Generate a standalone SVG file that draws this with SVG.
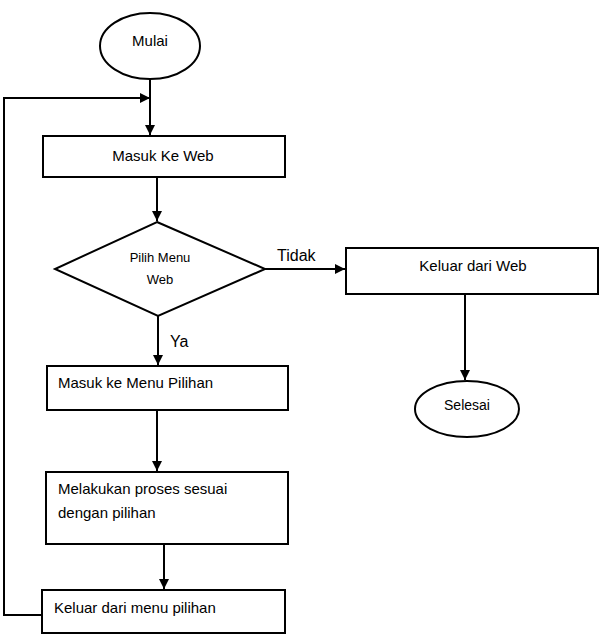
<svg xmlns="http://www.w3.org/2000/svg" width="600" height="641" viewBox="0 0 600 641">
<style>
.shape{fill:#fff;stroke:#000;stroke-width:2}
.line{fill:none;stroke:#000;stroke-width:2}
text{font-family:"Liberation Sans",Arial,sans-serif;fill:#000}
.t15{font-size:15px}
.c{text-anchor:middle}
</style>
<defs>
<marker id="arr" viewBox="0 0 10 10" refX="10" refY="5" markerWidth="5" markerHeight="5" orient="auto" markerUnits="strokeWidth">
<path d="M0,0 L10,5 L0,10 z" fill="#000"/>
</marker>
</defs>
<g id="mulai">
<ellipse class="shape" cx="150" cy="46" rx="50" ry="33"/>
<text class="t15 c" x="150" y="46">Mulai</text>
</g>
<g id="masuk-web">
<rect class="shape" x="43" y="136" width="242" height="41"/>
<text class="t15 c" x="163" y="161">Masuk Ke Web</text>
</g>
<g id="pilih-menu">
<polygon class="shape" points="157,222 265,269 158,316 55,269"/>
<text class="c" style="font-size:13px" x="160" y="262">Pilih Menu</text>
<text class="c" style="font-size:13px" x="160" y="284">Web</text>
</g>
<g id="keluar-web">
<rect class="shape" x="346" y="248" width="252" height="46"/>
<text class="t15 c" x="473" y="271">Keluar dari Web</text>
</g>
<g id="selesai">
<ellipse class="shape" cx="467" cy="409" rx="52" ry="28"/>
<text class="c" style="font-size:14px" x="467" y="410">Selesai</text>
</g>
<g id="masuk-menu">
<rect class="shape" x="47" y="366" width="241" height="44"/>
<text class="t15" x="58" y="388">Masuk ke Menu Pilihan</text>
</g>
<g id="melakukan">
<rect class="shape" x="46" y="472" width="242" height="72"/>
<text class="t15" x="58" y="494">Melakukan proses sesuai</text>
<text class="t15" x="58" y="518">dengan pilihan</text>
</g>
<g id="keluar-menu">
<rect class="shape" x="42" y="590" width="243" height="43"/>
<text class="t15" x="54" y="613">Keluar dari menu pilihan</text>
</g>
<g id="connectors">
<line class="line" x1="150" y1="79" x2="150" y2="135" marker-end="url(#arr)"/>
<line class="line" x1="157" y1="177" x2="157" y2="221" marker-end="url(#arr)"/>
<line class="line" x1="265" y1="269" x2="345" y2="269" marker-end="url(#arr)"/>
<line class="line" x1="158" y1="316" x2="158" y2="365" marker-end="url(#arr)"/>
<line class="line" x1="465" y1="294" x2="465" y2="380" marker-end="url(#arr)"/>
<line class="line" x1="157" y1="410" x2="157" y2="471" marker-end="url(#arr)"/>
<line class="line" x1="164" y1="544" x2="164" y2="589" marker-end="url(#arr)"/>
<polyline class="line" points="42,615 4,615 4,98 150,98" marker-end="url(#arr)"/>
<text style="font-size:16px" x="277" y="261">Tidak</text>
<text style="font-size:16px" x="170" y="347">Ya</text>
</g>
</svg>
